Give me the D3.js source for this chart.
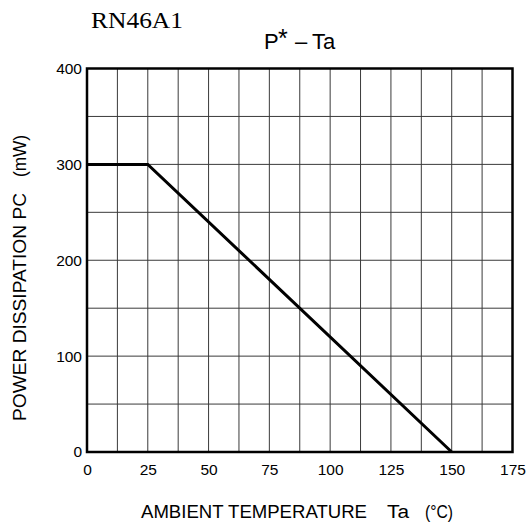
<!DOCTYPE html>
<html>
<head>
<meta charset="utf-8">
<script src="https://cdn.jsdelivr.net/npm/d3@7"></script>
<style>
  html, body { margin: 0; padding: 0; background: #fff; }
  svg { display: block; }
  text { fill: #000; white-space: pre; }
</style>
</head>
<body>
<svg id="chart" width="527" height="529"></svg>
<script>
// Derating curve: ambient temperature (°C) vs allowed power dissipation (mW)
const ambientTemp = [0, 25, 150];
const powerDissipation = [300, 300, 0];

const xTickValues = [0, 25, 50, 75, 100, 125, 150, 175];
const yTickValues = [0, 100, 200, 300, 400];
const xGridValues = d3.range(0, 175.01, 12.5);
const yGridValues = d3.range(0, 400.01, 50);

const SANS = "'Liberation Sans', Arial, Helvetica, sans-serif";
const SERIF = "'Liberation Serif', 'Times New Roman', serif";

const svg = d3.select("#chart");
const plotL = 87, plotR = 512.5, plotT = 68.5, plotB = 452;

const x = d3.scaleLinear().domain([0, 175]).range([plotL, plotR]);
const y = d3.scaleLinear().domain([0, 400]).range([plotB, plotT]);

// grid
svg.append("g").selectAll("line").data(xGridValues).join("line")
  .attr("x1", d => x(d)).attr("x2", d => x(d))
  .attr("y1", plotT).attr("y2", plotB)
  .attr("stroke", "#3a3a3a").attr("stroke-width", 1);
svg.append("g").selectAll("line").data(yGridValues).join("line")
  .attr("x1", plotL).attr("x2", plotR)
  .attr("y1", d => y(d)).attr("y2", d => y(d))
  .attr("stroke", "#3a3a3a").attr("stroke-width", 1);

// frame
svg.append("rect")
  .attr("x", plotL).attr("y", plotT)
  .attr("width", plotR - plotL).attr("height", plotB - plotT)
  .attr("fill", "none").attr("stroke", "#000").attr("stroke-width", 2.5);

// tick labels via d3 axes (no domain / tick lines)
const xAxis = svg.append("g")
  .attr("transform", `translate(0,${plotB})`)
  .call(d3.axisBottom(x).tickValues(xTickValues).tickSize(0).tickPadding(12).tickFormat(d3.format("d")));
const yAxis = svg.append("g")
  .attr("transform", `translate(${plotL},0)`)
  .call(d3.axisLeft(y).tickValues(yTickValues).tickSize(0).tickPadding(5).tickFormat(d3.format("d")));
[xAxis, yAxis].forEach(g => {
  g.select(".domain").remove();
  g.selectAll("text").attr("font-size", 15.5)
    .style("font-family", SANS).attr("fill", "#000");
});

// curve
const line = d3.line().x(d => x(d[0])).y(d => y(d[1]));
svg.append("path")
  .datum(ambientTemp.map((t, i) => [t, powerDissipation[i]]))
  .attr("d", line)
  .attr("fill", "none").attr("stroke", "#000").attr("stroke-width", 3)
  .attr("stroke-linejoin", "miter");

// part number
svg.append("text").attr("x", 91).attr("y", 28)
  .style("font-family", SERIF)
  .attr("font-size", 24).attr("textLength", 92).attr("lengthAdjust", "spacingAndGlyphs")
  .text("RN46A1");

// chart title  P* – Ta
const title = svg.append("g").style("font-family", SANS);
title.append("text").attr("x", 264).attr("y", 49).attr("font-size", 22).text("P");
title.append("text").attr("x", 278).attr("y", 47).attr("font-size", 25).text("*");
title.append("text").attr("x", 295).attr("y", 49).attr("font-size", 22).text("–");
title.append("text").attr("x", 312).attr("y", 49).attr("font-size", 22).text("Ta");

// x axis title
const xt = svg.append("g").style("font-family", SANS).attr("font-size", 18);
xt.append("text").attr("x", 141).attr("y", 518)
  .attr("textLength", 226).attr("lengthAdjust", "spacingAndGlyphs").text("AMBIENT TEMPERATURE");
xt.append("text").attr("x", 387).attr("y", 518)
  .attr("textLength", 22).attr("lengthAdjust", "spacingAndGlyphs").text("Ta");
xt.append("text").attr("x", 425).attr("y", 518)
  .attr("textLength", 28).attr("lengthAdjust", "spacingAndGlyphs").text("(°C)");

// y axis title
const yt = svg.append("g").style("font-family", SANS).attr("font-size", 18);
yt.append("text").attr("transform", "translate(26,421) rotate(-90)")
  .attr("textLength", 228).attr("lengthAdjust", "spacingAndGlyphs").text("POWER DISSIPATION PC");
yt.append("text").attr("transform", "translate(26,177) rotate(-90)")
  .attr("textLength", 42).attr("lengthAdjust", "spacingAndGlyphs").text("(mW)");
</script>
</body>
</html>
